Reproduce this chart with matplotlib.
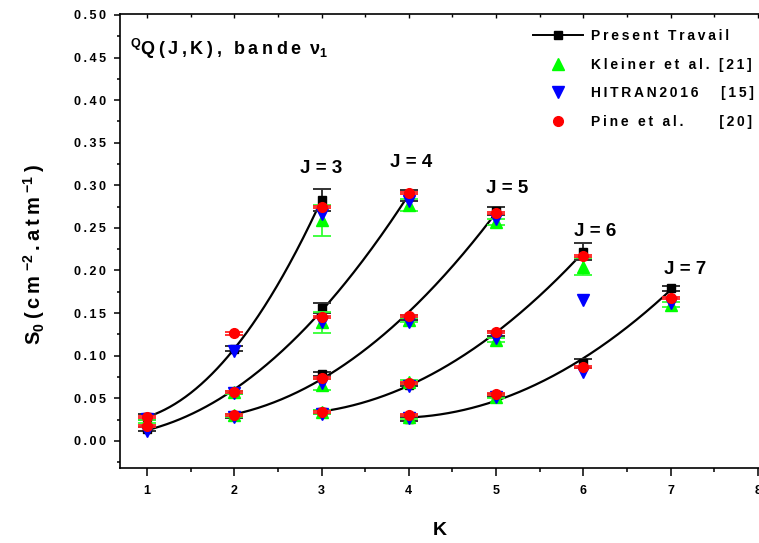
import numpy as np
import matplotlib
matplotlib.use('Agg')
import matplotlib.pyplot as plt
from matplotlib.lines import Line2D
from matplotlib.ticker import MultipleLocator

# Q(J,K) intensities, one sub-list per J
j_values = [3, 4, 5, 6, 7]
k_values = [[1, 2, 3], [1, 2, 3, 4], [2, 3, 4, 5], [3, 4, 5, 6], [4, 5, 6, 7]]

present = [[0.028, 0.108, 0.283],
           [0.0137, 0.057, 0.156, 0.288],
           [0.029, 0.0786, 0.145, 0.270],
           [0.034, 0.066, 0.126, 0.222],
           [0.0254, 0.053, 0.091, 0.179]]
present_err = [[0.003, 0.003, 0.013],
               [0.002, 0.002, 0.006, 0.006],
               [0.002, 0.002, 0.003, 0.005],
               [0.002, 0.002, 0.003, 0.010],
               [0.002, 0.002, 0.005, 0.003]]

kleiner = [[0.023, np.nan, 0.259],
           [np.nan, 0.057, 0.139, 0.277],
           [0.030, 0.066, 0.142, 0.257],
           [0.034, 0.069, 0.1185, 0.2046],
           [0.028, 0.052, np.nan, 0.160]]
kleiner_err = [[0.002, 0.0, 0.018],
               [0.0, 0.002, 0.012, 0.007],
               [0.002, 0.006, 0.002, 0.004],
               [0.002, 0.002, 0.002, 0.010],
               [0.002, 0.002, 0.0, 0.003]]

hitran = [[0.026, 0.105, 0.266],
          [0.012, 0.056, 0.139, 0.282],
          [0.028, 0.068, 0.140, 0.260],
          [0.032, 0.064, 0.121, 0.1655],
          [0.027, 0.051, 0.081, 0.1615]]

pine = [[0.028, 0.126, 0.274],
        [0.017, 0.057, 0.145, 0.291],
        [0.030, 0.0736, 0.1467, 0.268],
        [0.034, 0.0677, 0.128, 0.2175],
        [0.0305, 0.0548, 0.0865, 0.168]]
pine_err = 0.0012

y_ticks = [0.00, 0.05, 0.10, 0.15, 0.20, 0.25, 0.30, 0.35, 0.40, 0.45, 0.50]
x_ticks = [1, 2, 3, 4, 5, 6, 7, 8]

# where the "J = n" labels sit (data coords)
j_label_x = [3.0, 4.03, 5.13, 6.13, 7.17]
j_label_y = [0.320, 0.327, 0.296, 0.246, 0.2007]

GAP = '\u2009'


def spaced(s, gap=GAP):
    """Mimic the wide letter spacing of the original figure."""
    return gap.join(s)


plt.rcParams['font.family'] = ['Liberation Sans', 'DejaVu Sans']
plt.rcParams['font.weight'] = 'bold'
plt.rcParams['mathtext.fontset'] = 'custom'
plt.rcParams['mathtext.rm'] = 'Liberation Sans:bold'
plt.rcParams['mathtext.it'] = 'Liberation Sans:bold'
plt.rcParams['mathtext.bf'] = 'Liberation Sans:bold'
plt.rcParams['mathtext.sf'] = 'Liberation Sans:bold'
plt.rcParams['mathtext.default'] = 'rm'

fig = plt.figure(figsize=(7.59, 5.43), dpi=100)
ax = fig.add_axes([0.158, 0.138, 0.875, 0.836])

cap = 6.5
for i, ks in enumerate(k_values):
    ks = np.array(ks, dtype=float)
    pres = np.array(present[i])
    # smooth fit through the present work values
    coef = np.polyfit(ks, pres, 2)
    kk = np.linspace(ks[0], ks[-1], 200)
    ax.plot(kk, np.polyval(coef, kk), color='black', lw=1.6, zorder=2)

    ax.errorbar(ks, pres, yerr=present_err[i], fmt='s', color='black', ms=6,
                ecolor='#333333', elinewidth=1.4, capsize=cap, capthick=1.4, zorder=3)
    ax.errorbar(ks, kleiner[i], yerr=kleiner_err[i], fmt='^', color='#00ff00', ms=8,
                ecolor='#33ff33', elinewidth=1.3, capsize=cap, capthick=1.3, zorder=4)
    ax.plot(ks, hitran[i], 'v', color='#0000ff', ms=8, zorder=5)
    ax.errorbar(ks, pine[i], yerr=pine_err, fmt='o', color='#ff0000', ms=7,
                ecolor='#ff2222', elinewidth=1.3, capsize=cap, capthick=1.3, zorder=6)

for j, xl, yl in zip(j_values, j_label_x, j_label_y):
    ax.text(xl, yl, f'J = {j}', ha='center', va='center', fontsize=13.5, fontweight='bold')

ax.text(0.80, 0.453, r'$^{\mathregular{Q}}$' + spaced('Q(J,K), bande ') + r'$\nu_{1}$',
        fontsize=13, ha='left', va='baseline')

ax.set_xlim(0.69, 8.3)
ax.set_ylim(-0.032, 0.501)
ax.set_xticks(x_ticks)
ax.set_xticklabels([str(v) for v in x_ticks], fontsize=9)
ax.xaxis.set_minor_locator(MultipleLocator(0.5))
ax.set_yticks(y_ticks)
ax.set_yticklabels([spaced(f'{v:.2f}') for v in y_ticks], fontsize=9)
ax.yaxis.set_minor_locator(MultipleLocator(0.025))

ax.tick_params(axis='x', which='major', direction='out', length=5.5, width=1.1, pad=7)
ax.tick_params(axis='x', which='minor', direction='out', length=3, width=1.1)
ax.tick_params(axis='y', which='major', direction='out', length=4, width=1.1, pad=6)
ax.tick_params(axis='y', which='minor', direction='out', length=2.5, width=1.1)

top = ax.secondary_xaxis('top')
top.set_xticks(x_ticks)
top.xaxis.set_minor_locator(MultipleLocator(0.5))
top.tick_params(which='major', direction='in', length=3, width=1.0, labeltop=False)
top.tick_params(which='minor', direction='in', length=2, width=1.0)
top.spines['top'].set_linewidth(1.2)

for side in ['left', 'bottom']:
    ax.spines[side].set_linewidth(1.2)
ax.spines['right'].set_visible(False)
ax.spines['top'].set_visible(False)

ax.set_xlabel('K', fontsize=14, fontweight='bold')
ax.xaxis.set_label_coords((440 - 120) / 664, -0.118)
ax.set_ylabel('S$_{0}$' + GAP + spaced('(cm') + GAP + '$^{-2}$' + GAP + spaced('.atm') + GAP + '$^{-1}$' + GAP + ')',
              fontsize=14.5, fontweight='bold')
ax.yaxis.set_label_coords((47 - 120) / 664, 0.47)

handles = [
    Line2D([], [], color='black', marker='s', ms=6, lw=1.4),
    Line2D([], [], color='#00ff00', marker='^', ms=8, lw=0),
    Line2D([], [], color='#0000ff', marker='v', ms=8, lw=0),
    Line2D([], [], color='#ff0000', marker='o', ms=7, lw=0),
]
labels = [spaced('Present Travail'),
          spaced('Kleiner et al. [21]'),
          spaced('HITRAN2016   [15]'),
          spaced('Pine et al.     [20]')]
fig.legend(handles, labels, loc='upper left', bbox_to_anchor=(533 / 759, 1 - 29 / 543),
           frameon=False, fontsize=10, handlelength=3.6, handletextpad=0.6,
           labelspacing=1.05, borderpad=0, borderaxespad=0)

fig.savefig('out.png', dpi=100)
